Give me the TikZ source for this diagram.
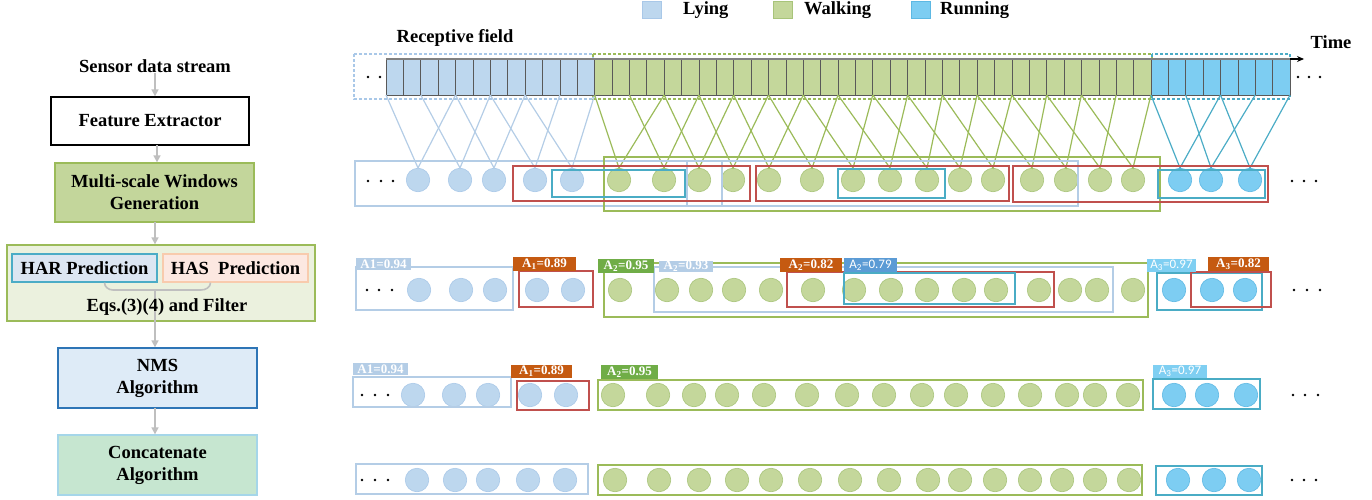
\documentclass[tikz,border=0pt]{standalone}
\usepackage{fontspec}
\setmainfont{Liberation Serif}
\newfontfamily\calib{Carlito}
\usetikzlibrary{arrows.meta}
\definecolor{lyF}{HTML}{BDD7EE}
\definecolor{lyD}{HTML}{A9C8E8}
\definecolor{lyL}{HTML}{B4CDE6}
\definecolor{wkF}{HTML}{C4D79B}
\definecolor{wkD}{HTML}{A8C47A}
\definecolor{wkL}{HTML}{9BBB59}
\definecolor{rnF}{HTML}{7DCDF2}
\definecolor{rnD}{HTML}{5DB8E3}
\definecolor{rnL}{HTML}{4BACC6}
\definecolor{redL}{HTML}{C0504D}
\definecolor{tealL}{HTML}{4AACC5}
\definecolor{orgF}{HTML}{C55A11}
\definecolor{grnF}{HTML}{70AD47}
\definecolor{bluF}{HTML}{5B9BD5}
\definecolor{skyF}{HTML}{7FCFF2}
\definecolor{arrowgray}{HTML}{BFBFBF}
\definecolor{outerF}{HTML}{EBF1DE}
\definecolor{harF}{HTML}{DCE6F2}
\definecolor{hasF}{HTML}{FCE8E1}
\definecolor{hasD}{HTML}{F8CBAD}
\definecolor{nmsF}{HTML}{DEEBF7}
\definecolor{nmsD}{HTML}{2E75B6}
\definecolor{ccF}{HTML}{C6E6D0}
\definecolor{ccD}{HTML}{A5D6E9}
\definecolor{msF}{HTML}{C3D69B}
\definecolor{cellD}{HTML}{595959}
\newcommand\mytab[8]{%
  \pgfmathsetmacro\tcx{(#2+#4)/2}\pgfmathsetmacro\tcy{(#3+#5)/2}%
  \pgfmathsetmacro\tw{#4-#2}\pgfmathsetmacro\th{#5-#3}%
  \node[#8, fill=#6, minimum width=\tw pt, minimum height=\th pt] (#1) at (\tcx,\tcy) {#7};}
\newcommand\mybox[5]{\draw[#1] (#2,#3) rectangle (#4,#5);}
\begin{document}
\begin{tikzpicture}[x=1pt,y=-1pt,
  txt/.style={font=\fontsize{18.5}{22}\selectfont\bfseries, inner sep=0pt, align=center},
  fbox/.style={txt, line width=1.3pt, inner sep=0pt},
  garrow/.style={draw=arrowgray, line width=1.6pt, -{Triangle[length=7pt,width=7pt]}},
  gline/.style={draw=arrowgray, line width=1.6pt},
  cirL/.style={circle, fill=lyF, draw=lyD, line width=0.6pt, minimum size=23.5pt, inner sep=0pt},
  cirW/.style={circle, fill=wkF, draw=wkD, line width=0.6pt, minimum size=23.5pt, inner sep=0pt},
  cirR/.style={circle, fill=rnF, draw=rnD, line width=0.6pt, minimum size=23.5pt, inner sep=0pt},
  conL/.style={draw=lyL, line width=1.2pt},
  conW/.style={draw=wkL, line width=1.2pt},
  conR/.style={draw=rnL, line width=1.2pt},
  bL/.style={draw=lyL, line width=1.8pt},
  bW/.style={draw=wkL, line width=1.8pt},
  bR/.style={draw=redL, line width=1.8pt},
  bT/.style={draw=tealL, line width=1.8pt},
  tabT/.style={inner sep=0pt, text=white, font=\fontsize{13}{13}\selectfont\bfseries},
  tabS/.style={inner sep=0pt, text=white, font=\calib\fontsize{13}{13}\selectfont},
  dsh/.style={line width=1.5pt, dash pattern=on 3pt off 2pt},
  legsq/.style={minimum width=19pt, minimum height=17pt, inner sep=0pt, line width=0.8pt},
  dotc/.style={fill=black}
]
\useasboundingbox (0,0) rectangle (1372,500);

% ---------- left flow ----------
\node[txt] (sensor) at (155,66) {Sensor data stream};
\node[fbox, draw=black, fill=white, minimum width=198pt, minimum height=48pt] (fe) at (150,121) {Feature Extractor};
\node[fbox, draw=wkL, fill=msF, minimum width=199pt, minimum height=59pt] (ms) at (154.5,192.5) {Multi-scale Windows\\Generation};
\node[fbox, draw=wkL, fill=outerF, minimum width=308pt, minimum height=76pt] (outer) at (161,283) {};
\node[fbox, draw=rnL, fill=harF, minimum width=145pt, minimum height=28pt] (har) at (84.5,268) {HAR Prediction};
\node[fbox, draw=hasD, fill=hasF, minimum width=145pt, minimum height=28pt] (has) at (235.5,268) {HAS\ \ Prediction};
\node[fbox, draw=nmsD, fill=nmsF, minimum width=199pt, minimum height=60pt] (nms) at (157.5,378) {NMS\\Algorithm};
\node[fbox, draw=ccD, fill=ccF, minimum width=199pt, minimum height=60pt] (cc) at (157.5,465) {Concatenate\\Algorithm};

\draw[garrow] (sensor.south) -- (sensor.south |- fe.north);
\draw[garrow] (157,145) coordinate (fes) -- (fes |- ms.north);
\draw[garrow] (155,222) coordinate (mss) -- (mss |- outer.north);
\coordinate (bj) at (155,290);
\draw[gline] ([xshift=20pt]har.south) to[out=-90,in=180] (113,290) -- (201,290) to[out=0,in=-90] ([xshift=-25pt]has.south);
\draw[garrow] (bj) -- (bj |- nms.north);
\node[txt] (eqs) at (167,307) {Eqs.(3)(4) and Filter};
\draw[garrow] (155,408) coordinate (nmss) -- (nmss |- cc.north);

% ---------- legend ----------
\node[legsq, draw=lyD, fill=lyF] (legL) at (651.5,10) {};
\node[txt, anchor=west] (legLt) at (683,10) {Lying};
\node[legsq, draw=wkD, fill=wkF] (legW) at (783,10) {};
\node[txt, anchor=west] (legWt) at (804,10) {Walking};
\node[legsq, draw=rnD, fill=rnF] (legR) at (920.5,10) {};
\node[txt, anchor=west] (legRt) at (940,10) {Running};

% ---------- top strip ----------
\node[txt] (rf) at (455,38) {Receptive field};
\draw[dsh, draw=lyD] (354,54) rectangle (593,99);
\draw[dsh, draw=wkL] (593,54) rectangle (1152,99);
\draw[dsh, draw=rnL] (1152,54) rectangle (1290,99);
\foreach \k in {0,...,51}{
  \ifnum\k<12 \def\cc{lyF}\else\ifnum\k<44 \def\cc{wkF}\else\def\cc{rnF}\fi\fi
  \draw[draw=cellD, line width=0.6pt, fill=\cc] ({386+17.385*\k},59) rectangle ++(17.385,36);
}
\draw[draw=gray, line width=1.2pt] (386,59) coordinate (tstart) -- (1290,59) coordinate (tend);
\draw[black, line width=1.2pt, -{Stealth[length=7pt,width=6pt]}] (tend) -- (1304,59) coordinate (tarrow);
\node[txt] (time) at (1331,42) {Time};
\fill (368,77) circle (1.3) (380,77) circle (1.3);
\fill (1298,77) circle (1.3) (1309,77) circle (1.3) (1320,77) circle (1.3);

\foreach \k in {0,...,26} \coordinate (p\k) at ({386+34.77*\k},95);

% ---------- row 2 ----------
\foreach \x [count=\i] in {418,460,494,535,572} \node[cirL] (r2l\i) at (\x,180) {};
\foreach \x [count=\i] in {619,664,699,733,769,812,853,890,927,960,993,1032,1066,1100,1133} \node[cirW] (r2w\i) at (\x,180) {};
\foreach \x [count=\i] in {1180,1211,1250} \node[cirR] (r2r\i) at (\x,180) {};
\foreach \i in {1,...,5}{\pgfmathtruncatemacro\a{\i-1}\pgfmathtruncatemacro\b{\i+1}
  \draw[conL] (p\a) -- (r2l\i.north) -- (p\b);}
\foreach \i in {1,...,15}{\pgfmathtruncatemacro\a{\i+5}\pgfmathtruncatemacro\b{\i+7}
  \draw[conW] (p\a) -- (r2w\i.north) -- (p\b);}
\foreach \i in {1,...,3}{\pgfmathtruncatemacro\a{\i+21}\pgfmathtruncatemacro\b{\i+23}
  \draw[conR] (p\a) -- (r2r\i.north) -- (p\b);}
\mybox{bL}{355}{161}{722}{206}
\mybox{bL}{687}{161}{1078}{206}
\mybox{bW}{604}{157}{1160}{211}
\mybox{bR}{513}{166}{750}{201}
\mybox{bR}{756}{166}{1009}{201}
\mybox{bR}{1013}{166}{1268}{202}
\mybox{bT}{552}{170}{685}{197}
\mybox{bT}{838}{169}{945}{198}
\mybox{bT}{1158}{170}{1265}{198}
\fill (368,181) circle (1.3) (381,181) circle (1.3) (393,181) circle (1.3);
\fill (1292,181) circle (1.3) (1304,181) circle (1.3) (1316,181) circle (1.3);

% ---------- row 3 ----------
\foreach \x [count=\i] in {419,461,495,537,573} \node[cirL] (r3l\i) at (\x,290) {};
\foreach \x [count=\i] in {620,667,701,734,771,813,854,891,927,964,996,1039,1070,1097,1133} \node[cirW] (r3w\i) at (\x,290) {};
\foreach \x [count=\i] in {1174,1212,1245} \node[cirR] (r3r\i) at (\x,290) {};
\mybox{bL}{356}{267}{513}{310}
\mybox{bR}{519}{271}{593}{307}
\mybox{bW}{604}{263}{1148}{317}
\mybox{bL}{654}{267}{1113}{312}
\mybox{bR}{787}{272}{1054}{307}
\mybox{bT}{844}{273}{1015}{304}
\mybox{bT}{1157}{273}{1262}{310}
\mybox{bR}{1191}{272}{1271}{307}
\mytab{t31}{356}{258}{411}{270}{lyL}{A1=0.94}{tabT}
\mytab{t32}{513}{257}{576}{271}{orgF}{A\textsubscript{1}=0.89}{tabT}
\mytab{t33}{598}{259}{654}{273}{grnF}{A\textsubscript{2}=0.95}{tabT}
\mytab{t34}{659}{261}{713}{272}{lyL}{A\textsubscript{2}=0.93}{tabT}
\mytab{t35}{780}{258}{842}{272}{orgF}{A\textsubscript{2}=0.82}{tabT}
\mytab{t36}{844}{258}{897}{272}{bluF}{A\textsubscript{2}=0.79}{tabS}
\mytab{t37}{1147}{259}{1196}{272}{skyF}{A\textsubscript{3}=0.97}{tabS}
\mytab{t38}{1208}{257}{1269}{271}{orgF}{A\textsubscript{3}=0.82}{tabT}
\fill (367,290) circle (1.3) (379,290) circle (1.3) (392,290) circle (1.3);
\fill (1294,290) circle (1.3) (1307,290) circle (1.3) (1320,290) circle (1.3);

% ---------- row 4 ----------
\foreach \x [count=\i] in {413,454,488,530,566} \node[cirL] (r4l\i) at (\x,395) {};
\foreach \x [count=\i] in {613,658,694,727,764,807,847,884,922,956,993,1030,1067,1095,1128} \node[cirW] (r4w\i) at (\x,395) {};
\foreach \x [count=\i] in {1174,1207,1246} \node[cirR] (r4r\i) at (\x,395) {};
\mybox{bL}{353}{377}{511}{407}
\mybox{bR}{517}{381}{589}{410}
\mybox{bW}{598}{380}{1143}{410}
\mybox{bT}{1153}{379}{1260}{409}
\mytab{t41}{353}{363}{408}{375}{lyL}{A1=0.94}{tabT}
\mytab{t42}{511}{365}{572}{378}{orgF}{A\textsubscript{1}=0.89}{tabT}
\mytab{t43}{601}{365}{658}{379}{grnF}{A\textsubscript{2}=0.95}{tabT}
\mytab{t44}{1153}{365}{1207}{378}{skyF}{A\textsubscript{3}=0.97}{tabS}
\fill (362,395) circle (1.3) (375,395) circle (1.3) (388,395) circle (1.3);
\fill (1293,395) circle (1.3) (1305,395) circle (1.3) (1318,395) circle (1.3);

% ---------- row 5 ----------
\foreach \x [count=\i] in {417,455,488,528,565} \node[cirL] (r5l\i) at (\x,480) {};
\foreach \x [count=\i] in {615,659,699,737,771,810,850,889,928,960,995,1030,1062,1095,1129} \node[cirW] (r5w\i) at (\x,480) {};
\foreach \x [count=\i] in {1178,1214,1249} \node[cirR] (r5r\i) at (\x,480) {};
\mybox{bL}{356}{464}{588}{494}
\mybox{bW}{598}{465}{1142}{495}
\mybox{bT}{1156}{466}{1262}{495}
\fill (362,480) circle (1.3) (375,480) circle (1.3) (388,480) circle (1.3);
\fill (1292,480) circle (1.3) (1304,480) circle (1.3) (1316,480) circle (1.3);
\end{tikzpicture}
\end{document}
